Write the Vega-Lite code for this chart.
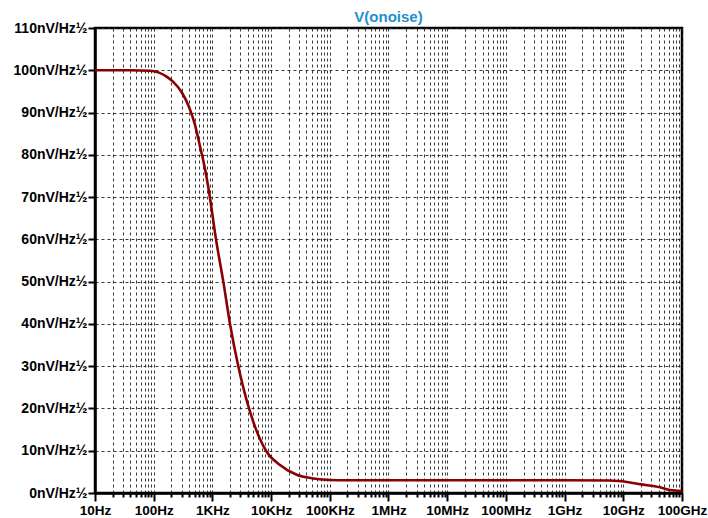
{
  "$schema": "https://vega.github.io/schema/vega-lite/v6.json",
  "autosize": {"type": "none"},
  "width": 587,
  "height": 465,
  "padding": {"left": 95, "top": 28, "right": 26, "bottom": 25},
  "background": "white",
  "title": {"text": "V(onoise)", "color": "#1f8fcf", "font": "Liberation Sans", "fontSize": 15, "fontWeight": "bold", "offset": -4, "anchor": "middle"},
  "config": {
    "view": {"stroke": "black", "strokeWidth": 2.5},
    "axis": {
      "labelFont": "Liberation Sans", "labelFontWeight": "bold", "labelColor": "black",
      "domainColor": "black", "domainWidth": 2.5, "tickColor": "black", "tickWidth": 2,
      "gridColor": "#222", "gridDash": [3, 3], "gridWidth": 1, "gridOpacity": 0.9,
      "labelOverlap": false, "labelFlush": false, "labelBound": false
    }
  },
  "data": {"values": [
    {"f": 10, "v": 100}, {"f": 40, "v": 100}, {"f": 86, "v": 99.9}, {"f": 120, "v": 99.5},
    {"f": 166, "v": 98.5}, {"f": 213, "v": 97.3}, {"f": 300, "v": 94.8}, {"f": 400, "v": 91.3},
    {"f": 500, "v": 87.3}, {"f": 615, "v": 82}, {"f": 700, "v": 78.6}, {"f": 800, "v": 74.5}, {"f": 900, "v": 70.2},
    {"f": 1152, "v": 60}, {"f": 1534, "v": 50}, {"f": 1995, "v": 40}, {"f": 2762, "v": 30},
    {"f": 4204, "v": 20}, {"f": 8190, "v": 10}, {"f": 14190, "v": 6.6}, {"f": 27300, "v": 4.3},
    {"f": 52400, "v": 3.45}, {"f": 100700, "v": 3.07}, {"f": 200000, "v": 3.0}, {"f": 1000000, "v": 3.0},
    {"f": 1e7, "v": 3.0}, {"f": 1e8, "v": 3.0}, {"f": 1e9, "v": 3.0}, {"f": 5.9e9, "v": 2.95},
    {"f": 1.3e10, "v": 2.5}, {"f": 1.92e10, "v": 2.1}, {"f": 4.22e10, "v": 1.35}, {"f": 6.25e10, "v": 0.7},
    {"f": 1e11, "v": 0.47}
  ]},
  "mark": {"type": "line", "color": "#8b0000", "strokeWidth": 2.6, "interpolate": "monotone", "clip": true},
  "encoding": {
    "x": {"field": "f", "type": "quantitative",
      "scale": {"type": "log", "domain": [10, 1e11], "nice": false},
      "axis": {"title": null, "grid": true, "labelFontSize": 13.5, "labelPadding": 2,
        "values": [10,20,30,40,50,60,70,80,90,100,200,300,400,500,600,700,800,900,1000,2000,3000,4000,5000,6000,7000,8000,9000,1e4,2e4,3e4,4e4,5e4,6e4,7e4,8e4,9e4,1e5,2e5,3e5,4e5,5e5,6e5,7e5,8e5,9e5,1e6,2e6,3e6,4e6,5e6,6e6,7e6,8e6,9e6,1e7,2e7,3e7,4e7,5e7,6e7,7e7,8e7,9e7,1e8,2e8,3e8,4e8,5e8,6e8,7e8,8e8,9e8,1e9,2e9,3e9,4e9,5e9,6e9,7e9,8e9,9e9,1e10,2e10,3e10,4e10,5e10,6e10,7e10,8e10,9e10,1e11],
        "tickSize": {"condition": {"test": "abs(log(datum.value)/LN10 - round(log(datum.value)/LN10)) < 0.01", "value": 8}, "value": 4},
        "labelExpr": "abs(log(datum.value)/LN10 - round(log(datum.value)/LN10)) < 0.01 ? ['','10Hz','100Hz','1KHz','10KHz','100KHz','1MHz','10MHz','100MHz','1GHz','10GHz','100GHz'][round(log(datum.value)/LN10)] : ''"
      }},
    "y": {"field": "v", "type": "quantitative",
      "scale": {"domain": [0, 110], "nice": false},
      "axis": {"title": null, "grid": true, "labelFontSize": 14, "labelPadding": 1, "tickSize": 7,
        "values": [0,10,20,30,40,50,60,70,80,90,100,110],
        "labelExpr": "datum.value + 'nV/Hz½'"}}
  }
}
